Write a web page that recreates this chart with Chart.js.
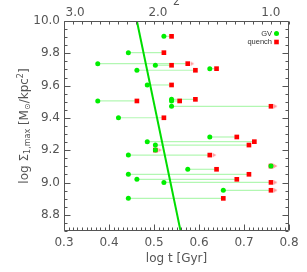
<!DOCTYPE html>
<html>
<head>
<meta charset="utf-8">
<script src="https://cdn.jsdelivr.net/npm/chart.js@4/dist/chart.umd.min.js"></script>
<style>body{margin:0;background:#fff}</style>
</head>
<body>
<canvas id="grafica" width="307" height="272"></canvas>
<script>
// log Sigma_1,max for each galaxy, with log t at green valley entry and at quenching
var sigma1 = [9.905, 9.804, 9.736, 9.726, 9.695, 9.705, 9.604, 9.505, 9.515, 9.505, 9.472, 9.401,
              9.282, 9.253, 9.232, 9.201, 9.170, 9.102, 9.082, 9.051, 9.020, 9.001, 8.952, 8.902];
var tGV = [0.522, 0.443, 0.375, 0.503, 0.462, 0.624, 0.485, 0.375, 0.539, 0.539, 0.539, 0.421,
           0.624, 0.485, 0.503, 0.503, 0.443, 0.760, 0.575, 0.443, 0.462, 0.522, 0.654, 0.443];
var tQuench = [0.539, 0.522, 0.575, 0.539, 0.592, 0.639, 0.539, 0.462, 0.592, 0.557, 0.760, 0.522,
               0.684, 0.723, 0.711, 0.503, 0.624, 0.760, 0.639, 0.711, 0.684, 0.760, 0.760, 0.654];
// 1 = quench time is a lower limit (small arrow)
var lowerLimit = [0, 0, 1, 0, 0, 0, 0, 0, 0, 0, 1, 0,
                  0, 0, 0, 1, 1, 1, 0, 0, 0, 1, 1, 0];
// green diagonal line
var lineT = [0.462, 0.559];
var lineSigma = [10.0, 8.7];

var xTicks = [0.3, 0.4, 0.5, 0.6, 0.7, 0.8];
var yTicks = [8.8, 9.0, 9.2, 9.4, 9.6, 9.8, 10.0];
var zTicks = [3.0, 2.0, 1.0];

var textColor = '#555';
var tickFont = { family: 'DejaVu Sans', size: 12 };

// age of universe (Gyr) at redshift z, flat LCDM H0=70 Om=0.3
function ageGyr(z) {
    var hubbleTime = 977.8 / 70, OL = 0.7, Om = 0.3;
    return 2 * hubbleTime / (3 * Math.sqrt(OL)) * Math.asinh(Math.sqrt(OL / Om) * Math.pow(1 + z, -1.5));
}

// small arrow image for lower limits
var arrow = document.createElement('canvas');
arrow.width = 16; arrow.height = 8;
var a = arrow.getContext('2d');
a.fillStyle = '#ff9c9c';
a.beginPath(); a.moveTo(11, 2); a.lineTo(14.5, 4); a.lineTo(11, 6); a.closePath(); a.fill();

var datasets = [];
datasets.push({
    label: 'GV',
    data: tGV.map(function (t, i) { return { x: t, y: sigma1[i] }; }),
    pointStyle: 'circle', pointRadius: 2.5, backgroundColor: '#00ee00', borderWidth: 0, order: 1
});
datasets.push({
    label: 'limit',
    data: tQuench.map(function (t, i) { return { x: t, y: lowerLimit[i] ? sigma1[i] : null }; }),
    pointStyle: arrow, pointRadius: 4, order: 3
});
datasets.push({
    label: 'quench',
    data: tQuench.map(function (t, i) { return { x: t, y: sigma1[i] }; }),
    pointStyle: 'rect', pointRadius: 3.3, backgroundColor: '#ff0000', borderWidth: 0, order: 2
});
datasets.push({
    label: 'line',
    data: lineT.map(function (t, i) { return { x: t, y: lineSigma[i] }; }),
    showLine: true, borderColor: '#00dd00', borderWidth: 2, pointRadius: 0, order: 4
});
sigma1.forEach(function (s, i) {
    datasets.push({
        label: 'link' + i,
        data: [{ x: tGV[i], y: s }, { x: tQuench[i], y: s }],
        showLine: true, borderColor: 'rgba(0,230,0,0.3)', borderWidth: 1.2, pointRadius: 0, order: 5
    });
});

// frame and inward tick marks on all sides
var frameTicks = {
    id: 'frameTicks',
    afterDatasetsDraw: function (chart) {
        var c = chart.ctx, area = chart.chartArea, sx = chart.scales.x, sy = chart.scales.y;
        var L = Math.round(area.left) + 0.5, R = Math.round(area.right) - 0.5;
        var T = Math.round(area.top) + 0.5, B = Math.round(area.bottom) - 0.5;
        c.save();
        c.strokeStyle = textColor;
        c.lineWidth = 1;
        c.beginPath();
        c.rect(L, T, R - L, B - T);
        for (var i = 0; i <= 50; i++) {
            var px = Math.round(sx.getPixelForValue(0.3 + i * 0.01)) + 0.5;
            var len = i % 10 === 0 ? 6 : 3;
            c.moveTo(px, B); c.lineTo(px, B - len);
        }
        for (var j = 0; j <= 25; j++) {
            var qx = Math.round(sx.getPixelForValue(0.3 + j * 0.02)) + 0.5;
            c.moveTo(qx, T); c.lineTo(qx, T + 3);
        }
        for (var k = 0; k <= 26; k++) {
            var v = 8.7 + k * 0.05;
            var py = Math.round(sy.getPixelForValue(v)) + 0.5;
            var major = Math.abs(Math.round(v * 5) - v * 5) < 1e-6;
            var l2 = major ? 6 : 3;
            c.moveTo(L, py); c.lineTo(L + l2, py);
            c.moveTo(R, py); c.lineTo(R - l2, py);
        }
        c.stroke();

        // legend
        c.font = "7.5px 'Liberation Sans'";
        c.fillStyle = '#333';
        c.textAlign = 'right';
        c.textBaseline = 'middle';
        c.fillText('GV', 272, 33.5);
        c.fillText('quench', 272, 42);
        c.fillStyle = '#00ee00';
        c.beginPath(); c.arc(276.5, 33.5, 2.5, 0, 2 * Math.PI); c.fill();
        c.fillStyle = '#ff0000';
        c.fillRect(274.2, 39.7, 4.6, 4.6);

        // y axis title with sub/superscripts
        var parts = [['log \u03a3', 12, 0], ['1,max', 8, 3], [' [M', 12, 0], ['\u2299', 8, 3],
                     ['/kpc', 12, 0], ['2', 8, -4], [']', 12, 0]];
        c.translate(25, (area.top + area.bottom) / 2);
        c.rotate(-Math.PI / 2);
        c.fillStyle = textColor;
        c.textAlign = 'left';
        var total = 0;
        parts.forEach(function (p) { c.font = p[1] + "px 'DejaVu Sans'"; total += c.measureText(p[0]).width; });
        var x = -total / 2;
        parts.forEach(function (p) {
            c.font = p[1] + "px 'DejaVu Sans'";
            c.fillText(p[0], x, p[2]);
            x += c.measureText(p[0]).width;
        });
        c.restore();
    }
};

var ctx = document.getElementById('grafica').getContext('2d');
var myChart = new Chart(ctx, {
    type: 'scatter',
    data: { datasets: datasets },
    options: {
        responsive: false,
        animation: false,
        layout: { padding: { left: 0, right: 18, top: 0, bottom: 0 } },
        plugins: { legend: { display: false }, tooltip: { enabled: false } },
        scales: {
            x: {
                position: 'bottom', min: 0.3, max: 0.8,
                afterBuildTicks: function (s) { s.ticks = xTicks.map(function (v) { return { value: v }; }); },
                afterFit: function (s) { s.height = 41; },
                grid: { display: false, drawTicks: false }, border: { display: false },
                ticks: { autoSkip: false, maxRotation: 0, padding: 5, color: textColor, font: tickFont,
                         callback: function (v) { return v.toFixed(1); } },
                title: { display: true, text: 'log t [Gyr]', color: textColor, font: tickFont,
                         padding: { top: 0, bottom: 6 } }
            },
            x2: {
                position: 'top', min: 0.3, max: 0.8,
                afterBuildTicks: function (s) {
                    s.ticks = zTicks.map(function (z) { return { value: Math.log10(ageGyr(z)) }; });
                },
                afterFit: function (s) { s.height = 21; },
                grid: { display: false, drawTicks: false }, border: { display: false },
                ticks: { autoSkip: false, maxRotation: 0, padding: 1, color: textColor, font: tickFont,
                         callback: function (v, i) { return zTicks[i].toFixed(1); } },
                title: { display: true, text: 'z', color: textColor, font: tickFont,
                         padding: { top: -5, bottom: 0 } }
            },
            y: {
                position: 'left', min: 8.7, max: 10.0,
                afterBuildTicks: function (s) { s.ticks = yTicks.map(function (v) { return { value: v }; }); },
                afterFit: function (s) { s.width = 64; },
                grid: { display: false, drawTicks: false }, border: { display: false },
                ticks: { autoSkip: false, padding: 4, color: textColor, font: tickFont,
                         callback: function (v) { return v.toFixed(1); } }
            }
        }
    },
    plugins: [frameTicks]
});
</script>
</body>
</html>
